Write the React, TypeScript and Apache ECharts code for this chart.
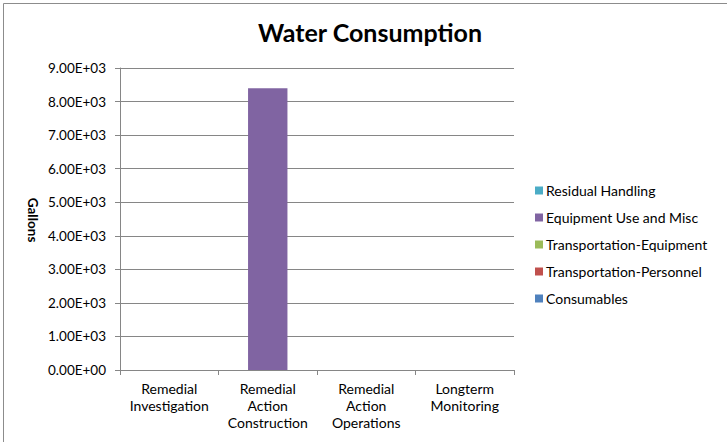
import React, { useEffect, useRef } from "react";
import * as echarts from "echarts";

const categories = [
  "Remedial\nInvestigation",
  "Remedial\nAction\nConstruction",
  "Remedial\nAction\nOperations",
  "Longterm\nMonitoring",
];
const seriesNames = [
  "Consumables",
  "Transportation-Personnel",
  "Transportation-Equipment",
  "Equipment Use and Misc",
  "Residual Handling",
];
const consumables = [0, 0, 0, 0];
const transportationPersonnel = [0, 0, 0, 0];
const transportationEquipment = [0, 0, 0, 0];
const equipmentUseAndMisc = [0, 8400, 0, 0];
const residualHandling = [0, 0, 0, 0];
const seriesValues = [
  consumables,
  transportationPersonnel,
  transportationEquipment,
  equipmentUseAndMisc,
  residualHandling,
];
const colors = ["#4F81BD", "#C0504D", "#9BBB59", "#8064A2", "#4BACC6"];
const legendOrder = [
  "Residual Handling",
  "Equipment Use and Misc",
  "Transportation-Equipment",
  "Transportation-Personnel",
  "Consumables",
];

const FONT = "Lato";

function sci(v: number): string {
  if (v === 0) return "0.00E+00";
  const e = Math.floor(Math.log10(Math.abs(v)));
  const m = v / Math.pow(10, e);
  const sign = e < 0 ? "-" : "+";
  const ea = Math.abs(e);
  return m.toFixed(2) + "E" + sign + (ea < 10 ? "0" + ea : String(ea));
}

export default function App() {
  const ref = useRef<HTMLDivElement>(null);
  useEffect(() => {
    if (!ref.current) return;
    const chart = echarts.init(ref.current, null, { renderer: "svg" });
    chart.setOption({
      animation: false,
      backgroundColor: "#ffffff",
      textStyle: { fontFamily: FONT },
      title: {
        text: "Water Consumption",
        left: 365,
        textAlign: "center",
        top: 14,
        textStyle: { fontFamily: FONT, fontSize: 25, fontWeight: "bold", color: "#000" },
      },
      graphic: [
        {
          type: "polyline",
          shape: { points: [[3.5, 442], [3.5, 3.5], [727, 3.5]] },
          style: { stroke: "#8c8c8c", lineWidth: 1, fill: null },
          silent: true,
        },
        {
          type: "text",
          x: 33,
          y: 220,
          rotation: -Math.PI / 2,
          style: {
            text: "Gallons",
            fontFamily: FONT,
            fontSize: 13.5,
            fontWeight: "bold",
            fill: "#000",
            align: "center",
            verticalAlign: "middle",
          },
        },
      ],
      legend: {
        orient: "vertical",
        left: 530,
        top: 178,
        itemWidth: 8,
        itemHeight: 8,
        itemGap: 12,
        icon: "rect",
        data: legendOrder,
        textStyle: { fontFamily: FONT, fontSize: 14, color: "#000", lineHeight: 15, padding: [0, 0, 0, -2] },
      },
      grid: { left: 120, right: 213, top: 68, bottom: 72, containLabel: false },
      xAxis: {
        type: "category",
        data: categories,
        axisLine: { lineStyle: { color: "#868686" } },
        axisTick: { show: true, alignWithLabel: false, length: 5, lineStyle: { color: "#868686" } },
        axisLabel: { fontFamily: FONT, fontSize: 14, color: "#000", lineHeight: 17, margin: 10, interval: 0 },
      },
      yAxis: {
        type: "value",
        min: 0,
        max: 9000,
        interval: 1000,
        axisLine: { show: true, lineStyle: { color: "#868686" } },
        axisTick: { show: true, length: 5, lineStyle: { color: "#868686" } },
        axisLabel: { fontFamily: FONT, fontSize: 13.5, color: "#000", margin: 14, formatter: (v: number) => sci(v) },
        splitLine: { lineStyle: { color: "#868686" } },
      },
      series: seriesNames.map((name, i) => ({
        name,
        type: "bar",
        stack: "total",
        data: seriesValues[i],
        barWidth: "40%",
        itemStyle: { color: colors[i] },
      })),
    });
    return () => chart.dispose();
  }, []);
  return (
    <div
      ref={ref}
      style={{ position: "fixed", left: 0, top: 0, width: 727, height: 442 }}
    />
  );
}
